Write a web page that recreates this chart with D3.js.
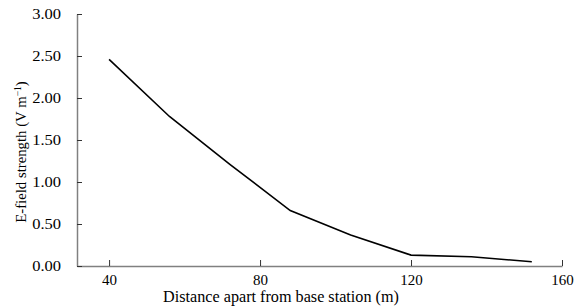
<!DOCTYPE html>
<html><head><meta charset="utf-8">
<script src="https://cdn.jsdelivr.net/npm/d3@7"></script>
<style>body{margin:0;background:#fff}svg{display:block}text{font-family:"Liberation Serif","Times New Roman",serif;fill:#000}</style>
</head><body><svg id="c" width="581" height="308"></svg>
<script>
const distances = [40, 56, 72, 88, 104, 120, 136, 152];
const efield = [2.46, 1.78, 1.21, 0.66, 0.37, 0.13, 0.11, 0.05];
const xTicks = [40, 80, 120, 160];
const yTicks = [0, 0.5, 1, 1.5, 2, 2.5, 3];

const svg = d3.select("#c");
const x = d3.scaleLinear().domain([31.5, 160]).range([77, 562]);
const y = d3.scaleLinear().domain([0, 3]).range([266, 14]);
const axisColor = "#808080";

const xa = svg.append("g").attr("transform", "translate(0,266)")
  .call(d3.axisBottom(x).tickValues(xTicks).tickSizeInner(-6).tickSizeOuter(0).tickPadding(8.5).tickFormat(d3.format("d")));
const ya = svg.append("g").attr("transform", "translate(77,0)")
  .call(d3.axisLeft(y).tickValues(yTicks).tickSizeInner(-5).tickSizeOuter(0).tickPadding(16).tickFormat(d3.format(".2f")));
[xa, ya].forEach(a => {
  a.select(".domain").attr("stroke", axisColor).attr("stroke-width", 1.5);
  a.selectAll(".tick line").attr("stroke", "#333").attr("stroke-width", 1);
  a.selectAll("text").style("font-family", '"Liberation Serif", serif').style("font-size", "15px").attr("fill", "#000");
});
ya.selectAll(".tick text").each(function() {
  const w = this.getComputedTextLength();
  d3.select(this).attr("textLength", w * 1.1).attr("lengthAdjust", "spacingAndGlyphs");
});

svg.append("path").datum(distances.map((d, i) => [d, efield[i]]))
  .attr("fill", "none").attr("stroke", "#000").attr("stroke-width", 1.6)
  .attr("d", d3.line().x(d => x(d[0])).y(d => y(d[1])));

function fit(t, target, base) {
  const w = t.node().getComputedTextLength();
  return base * target / w;
}
const xt = svg.append("text").attr("x", 281).attr("y", 302).attr("text-anchor", "middle")
  .style("font-size", "14px").text("Distance apart from base station (m)");
xt.style("font-size", fit(xt, 236, 14) + "px");

const yt = svg.append("text").attr("transform", "translate(26,152) rotate(-90)").attr("text-anchor", "middle").style("font-size", "14px");
yt.append("tspan").text("E-field strength (V m");
const sup = yt.append("tspan").attr("dy", -5).style("font-size", "9px").text("\u22121");
yt.append("tspan").attr("dy", 5).text(")");
let bb = yt.node().getBBox();
const fs = 14 * 142 / bb.width;
yt.style("font-size", fs + "px");
sup.style("font-size", (fs * 0.65) + "px");
</script></body></html>
